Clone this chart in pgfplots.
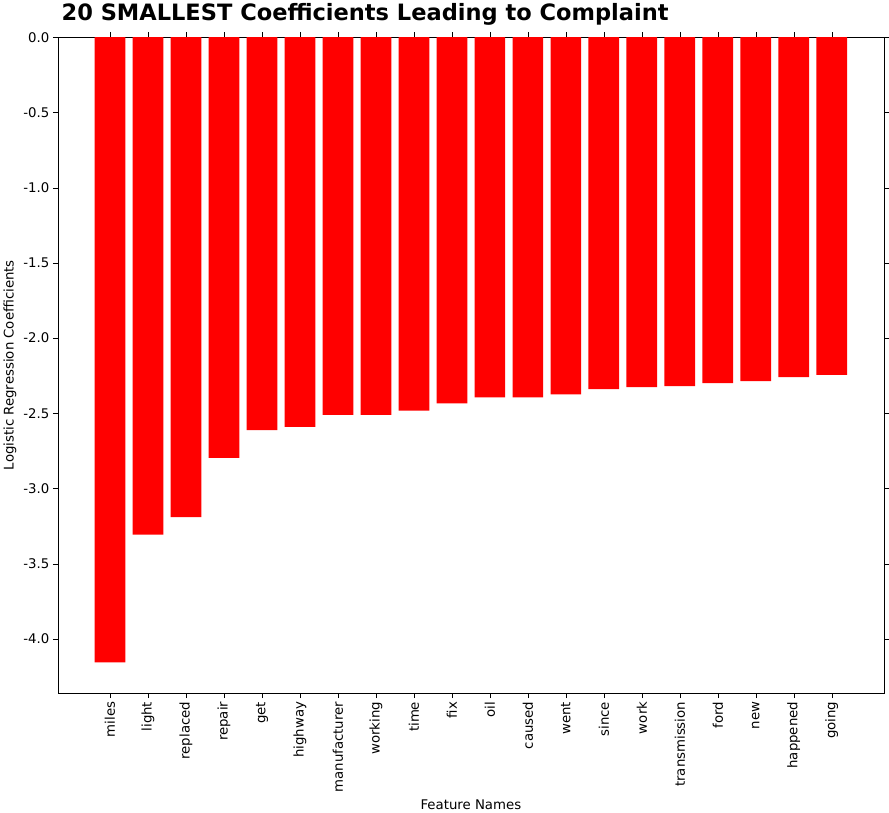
\documentclass[border=0pt]{standalone}
\usepackage{pgfplots}
\pgfplotsset{compat=1.18}
\usepackage{fontspec}
\setmainfont{DejaVu Sans}
\begin{document}
\begin{tikzpicture}
\begin{axis}[
  scale only axis, width=807pt, height=641pt,
  xmin=-1.37, xmax=20.37, ymin=-4.36, ymax=0,
  xtick={0,...,19},
  xticklabels={miles,light,replaced,repair,get,highway,manufacturer,working,time,fix,oil,caused,went,since,work,transmission,ford,new,happened,going},
  x tick label style={rotate=90, anchor=east, font=\fontsize{13}{14}\selectfont},
  ytick={-4,-3.5,...,0},
  yticklabel style={font=\fontsize{13}{14}\selectfont},
  /pgf/number format/assume math mode=true,
  /pgf/number format/.cd, fixed, fixed zerofill, precision=1, /pgfplots/.cd,
  yticklabel={$\pgfmathprintnumber{\tick}$},
  yticklabel={\pgfmathprintnumber{\tick}},
  tick align=outside, tick style={black}, major tick length=5pt,
  xlabel={Feature Names}, ylabel={Logistic Regression Coefficients},
  label style={font=\fontsize{13}{14}\selectfont},
  title={\bfseries 20 SMALLEST Coefficients Leading to Complaint},
  title style={font=\fontsize{22}{24}\selectfont, at={(0,1)}, anchor=south west, yshift=2pt},
]
\addplot[ybar, bar width=30pt, fill=red, draw=none] coordinates {
(0,-4.156) (1,-3.306) (2,-3.19) (3,-2.796) (4,-2.612) (5,-2.59) (6,-2.51) (7,-2.51) (8,-2.483) (9,-2.435) (10,-2.395) (11,-2.395) (12,-2.374) (13,-2.34) (14,-2.327) (15,-2.32) (16,-2.30) (17,-2.286) (18,-2.259) (19,-2.245)};
\end{axis}
\end{tikzpicture}
\end{document}
